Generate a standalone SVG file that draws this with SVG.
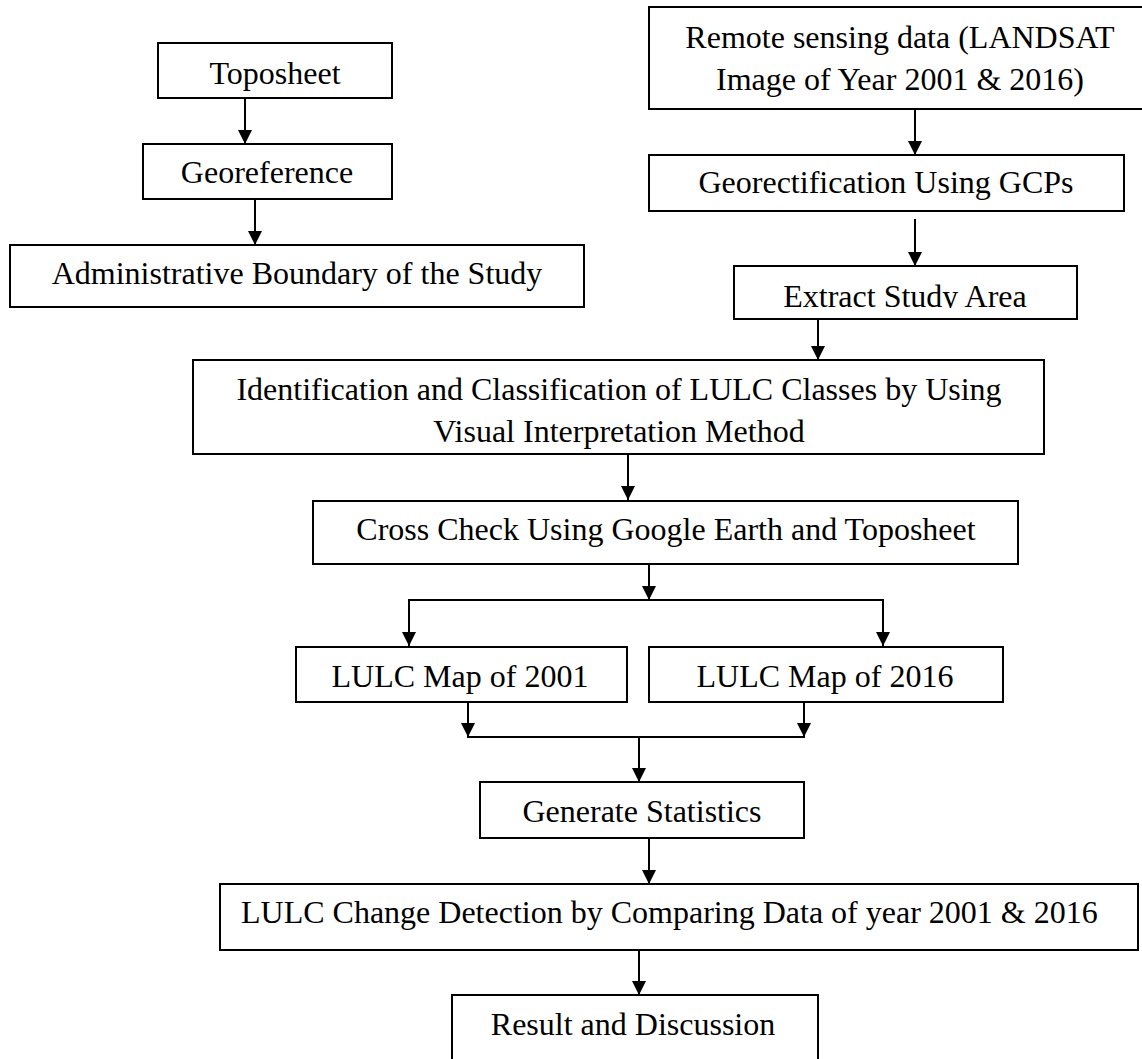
<svg xmlns="http://www.w3.org/2000/svg" width="1142" height="1059" viewBox="0 0 1142 1059">
<style>
.box{fill:#fff;stroke:#000;stroke-width:2}
.t{font-family:"Liberation Serif","Times New Roman",serif;font-size:32px;fill:#000;text-anchor:middle}
.ts{font-family:"Liberation Serif","Times New Roman",serif;font-size:32px;fill:#000;text-anchor:start}
.c{stroke:#000;stroke-width:2;fill:none}
</style>
<defs>
<marker id="ah" markerUnits="userSpaceOnUse" markerWidth="14" markerHeight="14" viewBox="0 0 14 14" refX="14" refY="7" orient="auto">
<path d="M0,0 L14,7 L0,14 Z" fill="#000"/>
</marker>
<clipPath id="clipExtract"><rect x="734" y="266" width="343" height="42"/></clipPath>
</defs>
<rect width="1142" height="1059" fill="#fff"/>
<g id="connectors">
<line class="c" x1="245" y1="98" x2="245" y2="144" marker-end="url(#ah)"/>
<line class="c" x1="255" y1="199" x2="255" y2="245" marker-end="url(#ah)"/>
<line class="c" x1="915" y1="109" x2="915" y2="155" marker-end="url(#ah)"/>
<line class="c" x1="915" y1="219" x2="915" y2="266" marker-end="url(#ah)"/>
<line class="c" x1="818" y1="319" x2="818" y2="360" marker-end="url(#ah)"/>
<line class="c" x1="628" y1="454" x2="628" y2="500" marker-end="url(#ah)"/>
<line class="c" x1="649" y1="564" x2="649" y2="600" marker-end="url(#ah)"/>
<line class="c" x1="408" y1="600" x2="884" y2="600"/>
<line class="c" x1="409" y1="600" x2="409" y2="646" marker-end="url(#ah)"/>
<line class="c" x1="883" y1="600" x2="883" y2="646" marker-end="url(#ah)"/>
<line class="c" x1="468" y1="702" x2="468" y2="737" marker-end="url(#ah)"/>
<line class="c" x1="804" y1="702" x2="804" y2="737" marker-end="url(#ah)"/>
<line class="c" x1="467" y1="737" x2="805" y2="737"/>
<line class="c" x1="639" y1="737" x2="639" y2="782" marker-end="url(#ah)"/>
<line class="c" x1="649" y1="838" x2="649" y2="884" marker-end="url(#ah)"/>
<line class="c" x1="639" y1="950" x2="639" y2="995" marker-end="url(#ah)"/>
</g>
<g id="toposheet">
<rect class="box" x="158" y="43" width="234" height="55"/>
<text class="t" x="275" y="84">Toposheet</text>
</g>
<g id="georeference">
<rect class="box" x="143" y="144" width="249" height="55"/>
<text class="t" x="267" y="183">Georeference</text>
</g>
<g id="admin-boundary">
<rect class="box" x="10" y="245" width="574" height="62"/>
<text class="t" x="297" y="284">Administrative Boundary of the Study</text>
</g>
<g id="remote-sensing">
<rect class="box" x="649" y="7" width="503" height="102"/>
<text class="t" x="900" y="48">Remote sensing data (LANDSAT</text>
<text class="t" x="900" y="90">Image of Year 2001 &amp; 2016)</text>
</g>
<g id="georectification">
<rect class="box" x="649" y="155" width="475" height="56"/>
<text class="t" x="886" y="193">Georectification Using GCPs</text>
</g>
<g id="extract">
<rect class="box" x="734" y="266" width="343" height="53"/>
<text class="t" x="905" y="307" clip-path="url(#clipExtract)">Extract Study Area</text>
</g>
<g id="identification">
<rect class="box" x="193" y="360" width="851" height="94"/>
<text class="t" x="619" y="400">Identification and Classification of LULC Classes by Using</text>
<text class="t" x="619" y="442">Visual Interpretation Method</text>
</g>
<g id="cross-check">
<rect class="box" x="313" y="501" width="705" height="63"/>
<text class="t" x="666" y="540">Cross Check Using Google Earth and Toposheet</text>
</g>
<g id="lulc-2001">
<rect class="box" x="296" y="647" width="331" height="55"/>
<text class="t" x="460" y="687">LULC Map of 2001</text>
</g>
<g id="lulc-2016">
<rect class="box" x="649" y="647" width="354" height="55"/>
<text class="t" x="825" y="687">LULC Map of 2016</text>
</g>
<g id="generate-statistics">
<rect class="box" x="480" y="782" width="324" height="56"/>
<text class="t" x="642" y="822">Generate Statistics</text>
</g>
<g id="change-detection">
<rect class="box" x="220" y="884" width="918" height="66"/>
<text class="ts" x="241" y="923">LULC Change Detection by Comparing Data of year 2001 &amp; 2016</text>
</g>
<g id="result">
<rect class="box" x="452" y="995" width="366" height="80"/>
<text class="t" x="633" y="1035">Result and Discussion</text>
</g>
</svg>
